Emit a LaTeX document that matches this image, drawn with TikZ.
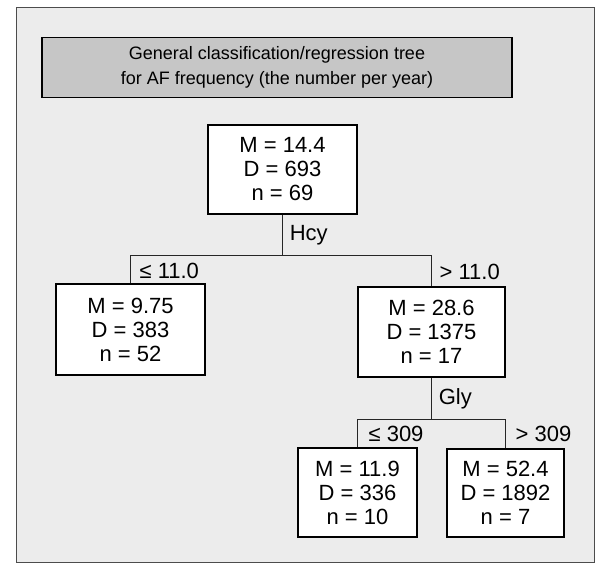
\documentclass[tikz,border=0pt]{standalone}
\usepackage{fontspec}
\setmainfont{Liberation Sans}
\usepackage{tikz}
\usetikzlibrary{positioning}

\definecolor{paper}{HTML}{ECECEC}
\definecolor{titlegray}{HTML}{C6C6C6}

\begin{document}
\begin{tikzpicture}[
  x=0.75pt, y=-0.75pt,
  every node/.style={font=\fontsize{16.5}{18}\selectfont, align=center, text=black},
  titlebox/.style={draw, line width=1.1pt, fill=titlegray, minimum width=352.5pt, minimum height=45pt, font=\fontsize{13.5}{18.5}\selectfont},
  leaf/.style={draw, line width=1.1pt, fill=white, inner sep=0pt},
  cond/.style={anchor=west, inner sep=1pt},
  line/.style={line width=0.9pt, color=black!85}
]
\useasboundingbox (0,0) rectangle (600,564);
\draw[fill=paper, draw=black!70] (16,7) rectangle (594,562);

\node[titlebox] (title) at (277,67.5) {General classification/regression tree\\for AF frequency (the number per year)};

\node[leaf, minimum width=111.75pt, minimum height=66.75pt] (root) at (282.5,169.5) {M = 14.4\\D = 693\\n = 69};
\node[leaf, minimum width=111.75pt, minimum height=68.25pt] (lft) at (130.5,329.5) {M = 9.75\\D = 383\\n = 52};
\node[leaf, minimum width=110.25pt, minimum height=67.5pt] (mid) at (431.5,332) {M = 28.6\\D = 1375\\n = 17};
\node[leaf, minimum width=89.25pt, minimum height=66.75pt] (ll) at (357.5,492.5) {M = 11.9\\D = 336\\n = 10};
\node[leaf, minimum width=87.75pt, minimum height=66pt] (lr) at (505.5,493) {M = 52.4\\D = 1892\\n = 7};

\path (root.south) ++(0,41) coordinate (hsplit);
\path (mid.south) ++(0,42) coordinate (gsplit);

\draw[line] (root.south) -- node[cond, right=4pt] {Hcy} (hsplit);
\draw[line] (lft.north) |- (hsplit) -| (mid.north);
\draw[line] (mid.south) -- node[cond, right=4pt] {Gly} (gsplit);
\draw[line] (ll.north) |- (gsplit) -| (lr.north);

\node[cond] (le11) at (138,271) {≤ 11.0};
\node[cond] (gt11) at (438,272) {> 11.0};
\node[cond] (le309) at (367,434) {≤ 309};
\node[cond] (gt309) at (514,434) {> 309};
\end{tikzpicture}
\end{document}
